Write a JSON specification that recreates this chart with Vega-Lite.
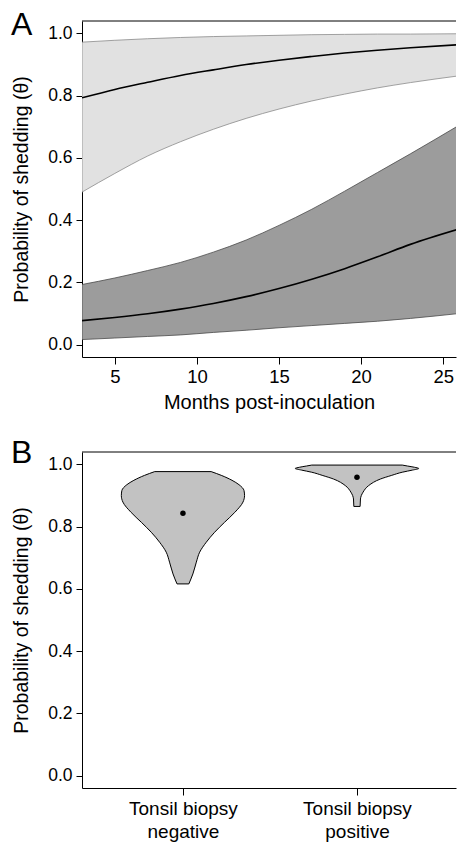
{
  "$schema": "https://vega.github.io/schema/vega-lite/v6.json",
  "padding": {"left": 11, "top": 8, "right": 0, "bottom": 0},
  "background": "white",
  "config": {
    "font": "Liberation Sans",
    "view": {"stroke": null},
    "axis": {"domainColor": "black", "tickColor": "black", "labelColor": "black", "titleColor": "black", "grid": false, "titleFontWeight": "normal", "domainWidth": 1, "tickWidth": 1, "labelFlush": false}
  },
  "datasets": {
    "bands": [
      {"month": 3, "band": "light", "lower": 0.49, "mean": 0.793, "upper": 0.972},
      {"month": 5, "band": "light", "lower": 0.55, "mean": 0.82, "upper": 0.978},
      {"month": 7, "band": "light", "lower": 0.606, "mean": 0.843, "upper": 0.983},
      {"month": 9, "band": "light", "lower": 0.652, "mean": 0.865, "upper": 0.987},
      {"month": 11, "band": "light", "lower": 0.692, "mean": 0.883, "upper": 0.99},
      {"month": 13, "band": "light", "lower": 0.727, "mean": 0.9, "upper": 0.992},
      {"month": 15, "band": "light", "lower": 0.757, "mean": 0.914, "upper": 0.994},
      {"month": 17, "band": "light", "lower": 0.783, "mean": 0.926, "upper": 0.996},
      {"month": 19, "band": "light", "lower": 0.805, "mean": 0.937, "upper": 0.997},
      {"month": 21, "band": "light", "lower": 0.825, "mean": 0.946, "upper": 0.998},
      {"month": 23, "band": "light", "lower": 0.842, "mean": 0.954, "upper": 0.998},
      {"month": 26, "band": "light", "lower": 0.864, "mean": 0.964, "upper": 0.999},
      {"month": 3, "band": "dark", "lower": 0.016, "mean": 0.077, "upper": 0.193},
      {"month": 5, "band": "dark", "lower": 0.021, "mean": 0.087, "upper": 0.214},
      {"month": 7, "band": "dark", "lower": 0.026, "mean": 0.099, "upper": 0.238},
      {"month": 9, "band": "dark", "lower": 0.031, "mean": 0.114, "upper": 0.264},
      {"month": 11, "band": "dark", "lower": 0.039, "mean": 0.132, "upper": 0.297},
      {"month": 13, "band": "dark", "lower": 0.046, "mean": 0.154, "upper": 0.336},
      {"month": 15, "band": "dark", "lower": 0.054, "mean": 0.18, "upper": 0.383},
      {"month": 17, "band": "dark", "lower": 0.061, "mean": 0.21, "upper": 0.435},
      {"month": 19, "band": "dark", "lower": 0.068, "mean": 0.244, "upper": 0.493},
      {"month": 21, "band": "dark", "lower": 0.075, "mean": 0.282, "upper": 0.553},
      {"month": 23, "band": "dark", "lower": 0.084, "mean": 0.322, "upper": 0.613},
      {"month": 26, "band": "dark", "lower": 0.1, "mean": 0.372, "upper": 0.706}
    ],
    "violins": [
      {"group": "negative", "p": 0.616, "xl": 0.966, "xr": 1.034},
      {"group": "negative", "p": 0.648, "xl": 0.943, "xr": 1.057},
      {"group": "negative", "p": 0.686, "xl": 0.923, "xr": 1.077},
      {"group": "negative", "p": 0.718, "xl": 0.904, "xr": 1.096},
      {"group": "negative", "p": 0.75, "xl": 0.866, "xr": 1.134},
      {"group": "negative", "p": 0.782, "xl": 0.818, "xr": 1.182},
      {"group": "negative", "p": 0.814, "xl": 0.761, "xr": 1.239},
      {"group": "negative", "p": 0.846, "xl": 0.702, "xr": 1.298},
      {"group": "negative", "p": 0.879, "xl": 0.655, "xr": 1.345},
      {"group": "negative", "p": 0.9, "xl": 0.646, "xr": 1.354},
      {"group": "negative", "p": 0.916, "xl": 0.649, "xr": 1.351},
      {"group": "negative", "p": 0.935, "xl": 0.678, "xr": 1.322},
      {"group": "negative", "p": 0.949, "xl": 0.718, "xr": 1.282},
      {"group": "negative", "p": 0.965, "xl": 0.78, "xr": 1.22},
      {"group": "negative", "p": 0.977, "xl": 0.838, "xr": 1.162},
      {"group": "positive", "p": 0.865, "xl": 1.982, "xr": 2.018},
      {"group": "positive", "p": 0.889, "xl": 1.98, "xr": 2.02},
      {"group": "positive", "p": 0.911, "xl": 1.965, "xr": 2.035},
      {"group": "positive", "p": 0.932, "xl": 1.933, "xr": 2.067},
      {"group": "positive", "p": 0.953, "xl": 1.866, "xr": 2.134},
      {"group": "positive", "p": 0.965, "xl": 1.8, "xr": 2.2},
      {"group": "positive", "p": 0.975, "xl": 1.74, "xr": 2.26},
      {"group": "positive", "p": 0.982, "xl": 1.68, "xr": 2.32},
      {"group": "positive", "p": 0.987, "xl": 1.645, "xr": 2.355},
      {"group": "positive", "p": 0.991, "xl": 1.67, "xr": 2.33},
      {"group": "positive", "p": 0.995, "xl": 1.71, "xr": 2.29},
      {"group": "positive", "p": 0.998, "xl": 1.74, "xr": 2.26}
    ],
    "medians": [
      {"group": "negative", "pos": 1, "p": 0.843},
      {"group": "positive", "pos": 2, "p": 0.959}
    ],
    "frame": [{"top": 1.04}]
  },
  "spacing": 23,
  "vconcat": [
    {
      "width": 374,
      "height": 336,
      "title": {"text": "A", "anchor": "start", "frame": "group", "orient": "top", "fontSize": 32, "fontWeight": "normal", "baseline": "alphabetic", "offset": -46, "dx": -71, "color": "black"},
      "layer": [
        {
          "data": {"name": "bands"},
          "mark": {"type": "area", "interpolate": "monotone", "strokeWidth": 0.8, "clip": true},
          "encoding": {
            "x": {"field": "month", "type": "quantitative", "scale": {"domain": [3, 25.78], "nice": false, "zero": false},
                  "axis": {"values": [5, 10, 15, 20, 25], "title": "Months post-inoculation", "titleFontSize": 20, "titlePadding": 7, "labelFontSize": 18.5, "tickSize": 7, "labelPadding": 3}},
            "y": {"field": "lower", "type": "quantitative", "scale": {"domain": [-0.04, 1.04], "nice": false, "zero": false},
                  "axis": {"values": [0, 0.2, 0.4, 0.6, 0.8, 1], "format": ".1f", "title": "Probability of shedding (θ)", "titleFontSize": 19.5, "titlePadding": 16, "labelFontSize": 17.5, "tickSize": 6, "labelPadding": 4}},
            "y2": {"field": "upper"},
            "fill": {"field": "band", "type": "nominal", "scale": {"domain": ["light", "dark"], "range": ["#e1e1e1", "#9c9c9c"]}, "legend": null},
            "stroke": {"field": "band", "type": "nominal", "scale": {"domain": ["light", "dark"], "range": ["#8a8a8a", "#4a4a4a"]}, "legend": null}
          }
        },
        {
          "data": {"name": "bands"},
          "mark": {"type": "line", "interpolate": "monotone", "color": "black", "strokeWidth": 1.6, "clip": true},
          "encoding": {
            "x": {"field": "month", "type": "quantitative"},
            "y": {"field": "mean", "type": "quantitative"},
            "detail": {"field": "band"}
          }
        },
        {
          "data": {"name": "frame"},
          "mark": {"type": "rule", "color": "black", "strokeWidth": 1},
          "encoding": {"y": {"field": "top", "type": "quantitative"}}
        }
      ]
    },
    {
      "width": 374,
      "height": 336,
      "title": {"text": "B", "anchor": "start", "frame": "group", "orient": "top", "fontSize": 32, "fontWeight": "normal", "baseline": "alphabetic", "offset": -43, "dx": -71, "color": "black"},
      "layer": [
        {
          "data": {"name": "violins"},
          "mark": {"type": "area", "orient": "horizontal", "interpolate": "monotone", "fill": "#c2c2c2", "stroke": "black", "strokeWidth": 1, "opacity": 1},
          "encoding": {
            "y": {"field": "p", "type": "quantitative", "scale": {"domain": [-0.04, 1.04], "nice": false, "zero": false},
                  "axis": {"values": [0, 0.2, 0.4, 0.6, 0.8, 1], "format": ".1f", "title": "Probability of shedding (θ)", "titleFontSize": 19.5, "titlePadding": 16, "labelFontSize": 17.5, "tickSize": 6, "labelPadding": 4}},
            "x": {"field": "xl", "type": "quantitative", "scale": {"domain": [0.42, 2.569], "nice": false, "zero": false},
                  "axis": {"values": [1, 2], "title": null, "labelExpr": "datum.value == 1 ? ['Tonsil biopsy', 'negative'] : ['Tonsil biopsy', 'positive']", "labelFontSize": 19, "labelLineHeight": 23.5, "tickSize": 7, "labelPadding": 4}},
            "x2": {"field": "xr"},
            "detail": {"field": "group"}
          }
        },
        {
          "data": {"name": "medians"},
          "mark": {"type": "point", "filled": true, "color": "black", "size": 30, "opacity": 1},
          "encoding": {
            "x": {"field": "pos", "type": "quantitative"},
            "y": {"field": "p", "type": "quantitative"}
          }
        },
        {
          "data": {"name": "frame"},
          "mark": {"type": "rule", "color": "black", "strokeWidth": 1},
          "encoding": {"y": {"field": "top", "type": "quantitative"}}
        }
      ]
    }
  ]
}
